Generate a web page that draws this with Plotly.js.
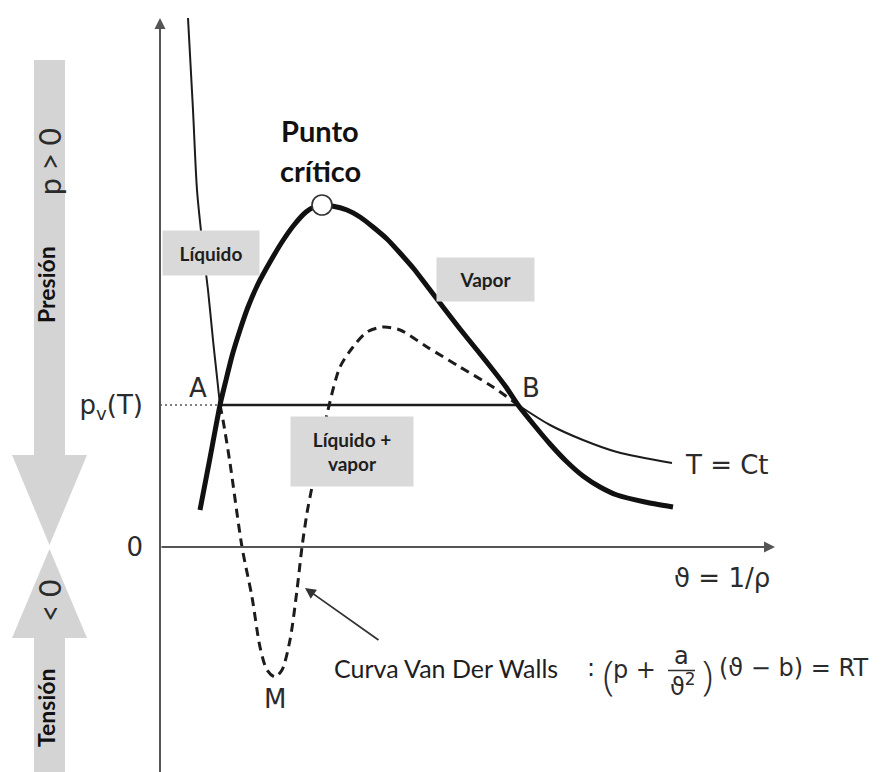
<!DOCTYPE html>
<html>
<head>
<meta charset="utf-8">
<script src="https://cdn.plot.ly/plotly-3.0.1.min.js"></script>
<style>
  html, body { margin: 0; padding: 0; background: #fff; }
  #chart { width: 886px; height: 772px; }
</style>
</head>
<body>
<div id="chart"></div>
<script>
// Saturation dome: specific volume ϑ against pressure p (schematic units)
const domeV = [0.40, 0.50, 0.60, 0.66, 0.72, 0.80, 0.88, 0.98, 1.10, 1.22, 1.34, 1.46, 1.54, 1.62,
               1.72, 1.87, 2.00, 2.13, 2.27, 2.40, 2.54, 2.67, 2.83, 3.00, 3.17, 3.33, 3.46, 3.58,
               3.74, 3.90, 4.06, 4.23, 4.40, 4.57, 4.85, 5.13];
const domeP = [0.37, 0.89, 1.42, 1.67, 1.91, 2.17, 2.40, 2.63, 2.85, 3.05, 3.22, 3.35, 3.40, 3.42,
               3.41, 3.37, 3.30, 3.20, 3.08, 2.94, 2.78, 2.61, 2.40, 2.18, 1.97, 1.77, 1.60, 1.42,
               1.22, 1.03, 0.86, 0.71, 0.60, 0.52, 0.45, 0.40];

// Isotherm T = Ct, liquid branch (above A)
const liqV = [0.28, 0.33, 0.37, 0.42, 0.48, 0.53, 0.57, 0.60];
const liqP = [5.29, 4.37, 3.57, 3.07, 2.57, 2.07, 1.70, 1.42];

// Isotherm T = Ct, vapour branch (beyond B)
const vapV = [3.58, 3.90, 4.23, 4.57, 5.12];
const vapP = [1.42, 1.22, 1.07, 0.95, 0.84];

// Van der Waals loop between A and B (dips to the tension minimum M)
const vdwV = [0.60, 0.63, 0.70, 0.82, 0.92, 1.00, 1.07, 1.15, 1.22, 1.30, 1.37, 1.42, 1.47, 1.52, 1.68, 1.80, 1.93, 2.07, 2.23, 2.40, 2.67, 3.00, 3.33, 3.58];
const vdwP = [1.42, 1.27, 0.84, 0.00, -0.50, -1.00, -1.23, -1.30, -1.23, -0.93, -0.43, 0.00, 0.34, 0.60, 1.37, 1.80, 2.00, 2.15, 2.20, 2.17, 2.00, 1.80, 1.60, 1.42];

// Saturation pressure p_v(T) and the ends A, B of the tie line
const pSat = 1.42;
const vA = 0.60;
const vB = 3.58;

// Critical point
const critV = 1.62;
const critP = 3.42;

// Pressure axis ticks
const yTickVals = [0, pSat];
const yTickText = ['0', 'p<sub>v</sub>(T)'];

const INK = '#1c1c1c';
const TXT = '#2b2b2b';
const LBL = { family: 'DejaVu Sans, sans-serif', size: 26, color: TXT };
const EQ = { family: 'DejaVu Sans, sans-serif', size: 24, color: TXT };
const PAREN = { family: 'Open Sans, sans-serif', size: 40, color: TXT, weight: 300 };
const BOXFONT = { family: 'Lato, sans-serif', size: 19, color: '#1e1e1e', weight: 700 };

// page-pixel helpers for the decorations that live in the left margin
const W = 886, H = 772, ML = 160;
const pxX = v => (v - ML) / (W - ML);
const pxY = v => (H - v) / H;
const pathOf = pts => 'M ' + pts.map(p => pxX(p[0]) + ',' + pxY(p[1])).join(' L ') + ' Z';

const traces = [
  { // tie line A–B at p_v
    x: [vA, vB], y: [pSat, pSat], mode: 'lines',
    line: { color: INK, width: 2.5 }, hoverinfo: 'skip'
  },
  { // dotted lead from the p axis to A
    x: [0, vA], y: [pSat, pSat], mode: 'lines',
    line: { color: '#808080', width: 2, dash: '2px,3px' }, hoverinfo: 'skip'
  },
  { // Van der Waals loop
    x: vdwV, y: vdwP, mode: 'lines',
    line: { color: INK, width: 3, dash: '9px,6px', shape: 'spline', smoothing: 0.8 }, hoverinfo: 'skip'
  },
  { // isotherm, liquid side
    x: liqV, y: liqP, mode: 'lines',
    line: { color: INK, width: 2, shape: 'spline', smoothing: 0.8 }, hoverinfo: 'skip'
  },
  { // isotherm, vapour side
    x: vapV, y: vapP, mode: 'lines',
    line: { color: INK, width: 2, shape: 'spline', smoothing: 0.8 }, hoverinfo: 'skip'
  },
  { // saturation dome
    x: domeV, y: domeP, mode: 'lines',
    line: { color: '#111', width: 5, shape: 'spline', smoothing: 0.5 }, hoverinfo: 'skip'
  },
  { // critical point
    x: [critV], y: [critP], mode: 'markers',
    marker: { size: 20, color: '#fff', line: { color: '#333', width: 1.6 } }, hoverinfo: 'skip'
  }
];

const C = { xanchor: 'center', yanchor: 'middle', showarrow: false };

const annotations = [
  // axes drawn as arrows
  { x: 0, y: 5.29, ax: 0, ay: -2.30, axref: 'x', ayref: 'y', xref: 'x', yref: 'y',
    showarrow: true, arrowhead: 2, arrowsize: 1.1, arrowwidth: 2, arrowcolor: '#555', text: '', standoff: 0 },
  { x: 6.15, y: 0, ax: 0, ay: 0, axref: 'x', ayref: 'y', xref: 'x', yref: 'y',
    showarrow: true, arrowhead: 2, arrowsize: 1.1, arrowwidth: 2, arrowcolor: '#555', text: '', standoff: 0 },
  { ...C, x: -0.26, y: 5.22, xref: 'x', yref: 'y', text: 'p', font: LBL },
  { ...C, x: 5.62, y: -0.31, xref: 'x', yref: 'y', text: 'ϑ = 1/ρ', font: LBL },
  { ...C, x: 5.67, y: 0.82, xref: 'x', yref: 'y', text: 'T = Ct', font: LBL },
  { ...C, x: vA - 0.22, y: pSat + 0.17, xref: 'x', yref: 'y', text: 'A', font: LBL },
  { ...C, x: vB + 0.13, y: pSat + 0.17, xref: 'x', yref: 'y', text: 'B', font: LBL },
  { ...C, x: 1.15, y: -1.52, xref: 'x', yref: 'y', text: 'M', font: LBL },

  // critical point caption
  { ...C, x: critV - 0.02, y: 4.17, xref: 'x', yref: 'y', text: '<b>Punto</b>',
    font: { family: 'Lato, sans-serif', size: 29, color: '#111' } },
  { ...C, x: critV - 0.02, y: 3.77, xref: 'x', yref: 'y', text: '<b>crítico</b>',
    font: { family: 'Lato, sans-serif', size: 29, color: '#111' } },

  // region boxes
  { ...C, x: 0.51, y: 2.94, xref: 'x', yref: 'y', text: 'Líquido', font: BOXFONT,
    bgcolor: '#d9d9d9', width: 96, height: 44, borderpad: 0 },
  { ...C, x: 3.255, y: 2.675, xref: 'x', yref: 'y', text: 'Vapor', font: BOXFONT,
    bgcolor: '#d9d9d9', width: 97, height: 43, borderpad: 0 },
  { ...C, x: 1.92, y: 0.955, xref: 'x', yref: 'y', text: 'Líquido +<br>vapor', font: BOXFONT,
    bgcolor: '#d9d9d9', width: 122, height: 69, borderpad: 0 },

  // Van der Waals caption with pointer
  { x: 1.45, y: -0.41, ax: 2.20, ay: -0.94, axref: 'x', ayref: 'y', xref: 'x', yref: 'y',
    showarrow: true, arrowhead: 2, arrowsize: 1.2, arrowwidth: 1.8, arrowcolor: '#333', text: '', standoff: 0 },
  { ...C, x: 2.86, y: -1.21, xref: 'x', yref: 'y', text: 'Curva Van Der Walls',
    font: { family: 'Lato, sans-serif', size: 25, color: '#1e1e1e' } },

  // equation of state
  { ...C, x: 4.31, y: -1.21, xref: 'x', yref: 'y', text: ':', font: EQ },
  { ...C, x: 4.48, y: -1.27, xref: 'x', yref: 'y', text: '(', font: PAREN },
  { ...C, x: 4.74, y: -1.23, xref: 'x', yref: 'y', text: 'p +', font: EQ },
  { ...C, x: 5.21, y: -1.09, xref: 'x', yref: 'y', text: 'a', font: EQ },
  { ...C, x: 5.23, y: -1.38, xref: 'x', yref: 'y', text: 'ϑ<sup>2</sup>', font: EQ },
  { ...C, x: 5.47, y: -1.27, xref: 'x', yref: 'y', text: ')', font: PAREN },
  { x: 5.57, y: -1.21, xref: 'x', yref: 'y', xanchor: 'left', yanchor: 'middle', showarrow: false,
    text: '(ϑ − b) = RT', font: EQ },

  // labels inside the left pressure / tension band
  { ...C, x: pxX(49), y: pxY(162), xref: 'paper', yref: 'paper', text: 'p > 0', textangle: -90,
    font: { family: 'Lato, sans-serif', size: 30, color: TXT } },
  { ...C, x: pxX(46), y: pxY(285), xref: 'paper', yref: 'paper', text: '<b>Presión</b>', textangle: -90,
    font: { family: 'Lato, sans-serif', size: 23, color: '#111' } },
  { ...C, x: pxX(49), y: pxY(601), xref: 'paper', yref: 'paper', text: '< 0', textangle: -90,
    font: { family: 'Lato, sans-serif', size: 30, color: TXT } },
  { ...C, x: pxX(46), y: pxY(708), xref: 'paper', yref: 'paper', text: '<b>Tensión</b>', textangle: -90,
    font: { family: 'Lato, sans-serif', size: 23, color: '#111' } }
];

const shapes = [
  // downward arrow: positive pressure
  { type: 'path', xref: 'paper', yref: 'paper', layer: 'below', fillcolor: '#d4d4d4', line: { width: 0 },
    path: pathOf([[34, 60], [65, 60], [65, 455], [87, 455], [49.5, 545], [12, 455], [34, 455]]) },
  // upward arrow: tension
  { type: 'path', xref: 'paper', yref: 'paper', layer: 'below', fillcolor: '#d4d4d4', line: { width: 0 },
    path: pathOf([[49.5, 549], [87, 638], [65, 638], [65, 772], [34, 772], [34, 638], [12, 638]]) },
  // fraction bar of a/ϑ²
  { type: 'line', xref: 'x', yref: 'y', x0: 5.08, x1: 5.35, y0: -1.235, y1: -1.235,
    line: { color: TXT, width: 1.5 } }
];

const layout = {
  width: W, height: H,
  margin: { l: ML, r: 0, t: 0, b: 0 },
  paper_bgcolor: '#fff', plot_bgcolor: '#fff',
  showlegend: false,
  xaxis: { range: [0, 7.26], visible: false, fixedrange: true },
  yaxis: {
    range: [-2.25, 5.47], fixedrange: true,
    showline: false, zeroline: false, showgrid: false, ticks: '',
    tickvals: yTickVals, ticktext: yTickText,
    tickfont: LBL, ticklabelstandoff: 16
  },
  annotations: annotations,
  shapes: shapes
};

Plotly.newPlot('chart', traces, layout, { staticPlot: true, displayModeBar: false });
</script>
</body>
</html>
